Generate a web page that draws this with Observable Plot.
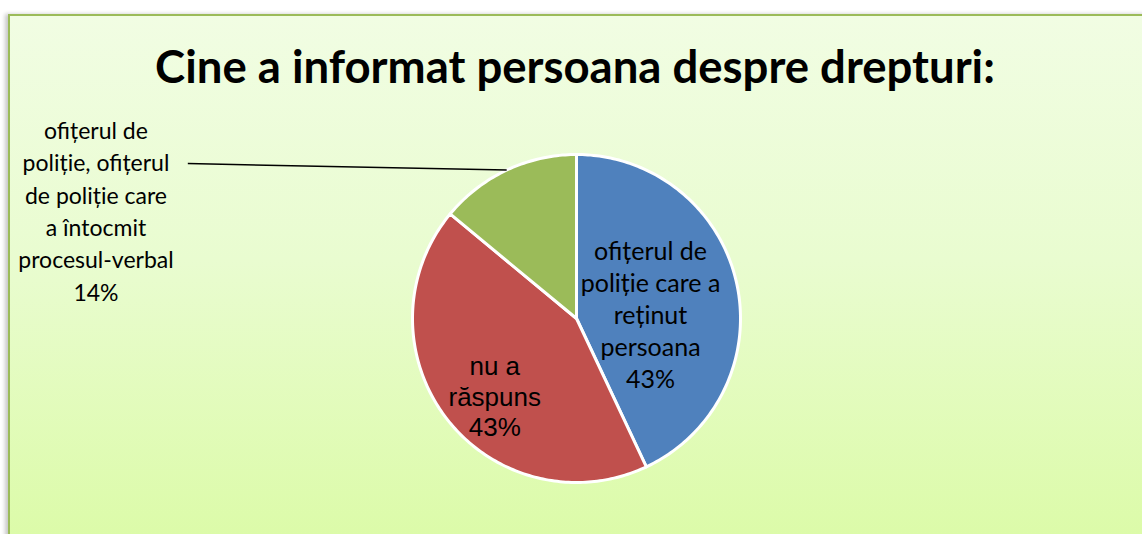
<!DOCTYPE html>
<html><head><meta charset="utf-8">
<script src="https://cdn.jsdelivr.net/npm/d3@7"></script>
<script src="https://cdn.jsdelivr.net/npm/@observablehq/plot@0.6"></script>
<style>
html,body{margin:0;padding:0;background:#fff;}
#wrap{position:relative;width:1142px;height:534px;overflow:hidden;}
#frame{position:absolute;left:8px;top:14px;width:1150px;height:540px;border-left:2px solid #9bbb59;border-top:2px solid #9bbb59;background:linear-gradient(to bottom,#f1fde3 0%,#e9fcd0 45%,#dbfba6 100%);box-shadow:-3px 0 4px rgba(0,0,0,0.22);}
#title{position:absolute;left:0;width:1150px;top:39px;text-align:center;font-family:Lato,"Open Sans",sans-serif;font-weight:bold;font-size:45.5px;line-height:54px;color:#000;white-space:nowrap;}
#chart{position:absolute;left:0;top:0;}
</style>
</head><body>
<div id="wrap">
  <div id="frame"></div>
  <div id="title">Cine a informat persoana despre drepturi:</div>
  <div id="chart"></div>
</div>
<script>
// ---- data ----
const categories = [
  "ofițerul de poliție care a reținut persoana",
  "nu a răspuns",
  "ofițerul de poliție, ofițerul de poliție care a întocmit procesul-verbal"
];
const percents = [43, 43, 14];
const sliceColors = ["#4f81bd", "#c0504d", "#9bbb59"];
const labelLines = [
  "ofițerul de\npoliție care a\nreținut\npersoana",
  "nu a\nrăspuns",
  "ofițerul de\npoliție, ofițerul\nde poliție care\na întocmit\nprocesul-verbal"
];

// ---- layout ----
const W = 1142, H = 534;
const CX = 576, CY = 318, R = 164;

const rows = categories.map((c, i) => ({category: c, value: percents[i], color: sliceColors[i],
  label: labelLines[i] + "\n" + percents[i] + "%"}));
const arcs = d3.pie().sort(null).value(d => d.value)(rows);

const pt = (a, r) => [r * Math.sin(a), r * Math.cos(a)];
const slicePts = [];
arcs.forEach(a => {
  const n = Math.max(2, Math.ceil((a.endAngle - a.startAngle) / (Math.PI / 180)));
  slicePts.push({category: a.data.category, x: 0, y: 0});
  for (let k = 0; k <= n; k++) {
    const ang = a.startAngle + (a.endAngle - a.startAngle) * k / n;
    const [x, y] = pt(ang, 1);
    slicePts.push({category: a.data.category, x, y});
  }
  slicePts.push({category: a.data.category, x: 0, y: 0});
});

const mid = a => (a.startAngle + a.endAngle) / 2;
const inside = arcs.slice(0, 2).map(a => {
  const [x, y] = pt(mid(a), 0.6);
  return {x, y, label: a.data.label};
});
const gArc = arcs[2];
const [gx, gy] = pt(mid(gArc), 1.0);
const greenLabel = {x: -2.93, y: 0.665, label: gArc.data.label};
const leader = [{x1: gx, y1: gy, x2: -2.37, y2: 0.945}];

const chart = Plot.plot({
  width: W, height: H,
  margin: 0,
  style: {background: "transparent", overflow: "visible"},
  x: {type: "linear", domain: [-CX / R, (W - CX) / R], range: [0, W], axis: null},
  y: {type: "linear", domain: [-(H - CY) / R, CY / R], range: [H, 0], axis: null},
  marks: [
    Plot.line(slicePts, {x: "x", y: "y", z: "category",
      fill: d => sliceColors[categories.indexOf(d.category)],
      stroke: "white", strokeWidth: 3, strokeLinejoin: "round", curve: "linear"}),
    Plot.link(leader, {x1: "x1", y1: "y1", x2: "x2", y2: "y2", stroke: "black", strokeWidth: 1.5}),
    Plot.text([inside[0]], {x: "x", y: "y", text: "label", dx: -22, dy: 17,
      fontFamily: "Lato, 'Open Sans', sans-serif", fontSize: 25, lineHeight: 1.28, fill: "black",
      textAnchor: "middle", lineAnchor: "middle"}),
    Plot.text([inside[1]], {x: "x", y: "y", text: "label", dx: -4, dy: 17,
      fontFamily: "'Liberation Sans', Arial, sans-serif", fontSize: 26, lineHeight: 1.17, fill: "black",
      textAnchor: "middle", lineAnchor: "middle"}),
    Plot.text([greenLabel], {x: "x", y: "y", text: "label",
      fontFamily: "Lato, 'Open Sans', sans-serif", fontSize: 23, lineHeight: 1.41, fill: "black",
      textAnchor: "middle", lineAnchor: "middle"})
  ]
});
document.getElementById("chart").appendChild(chart);
</script>
</body></html>
